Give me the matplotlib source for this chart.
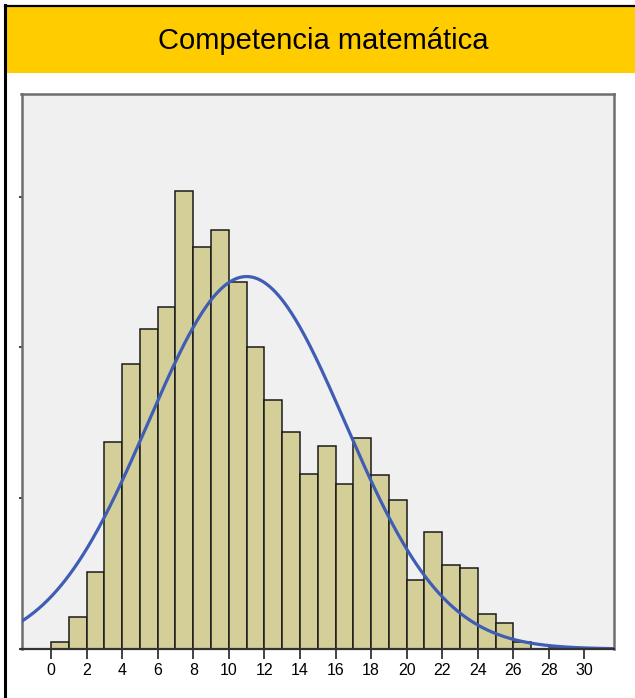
import matplotlib
matplotlib.use("Agg")
import matplotlib.pyplot as plt
import matplotlib.patches as mpatches
import numpy as np

# histogram of scores (bin width 1, left edges 0..28)
bin_left = list(range(0, 29))
counts = [0.9, 4.3, 10.2, 27.5, 37.8, 42.4, 45.3, 60.7, 53.3, 55.6,
          48.7, 40.1, 33.0, 28.8, 23.2, 26.9, 21.9, 28.0, 23.1, 19.7,
          9.2, 15.5, 11.1, 10.8, 4.6, 3.5, 0.9, 0.0, 0.15]
# normal fit shown on top
fit_mean = 11.0
fit_sd = 5.55
x_ticks = list(range(0, 31, 2))
y_ticks = [0, 20, 40, 60]
title = "Competencia matemática"

W, H = 635, 698
fig = plt.figure(figsize=(W / 100, H / 100), dpi=100)
fig.patch.set_facecolor("white")

# yellow title band and black frame lines
fig.add_artist(mpatches.Rectangle((6 / W, 1 - 73 / H), 629 / W, 66 / H,
                                  transform=fig.transFigure, facecolor="#ffcc00",
                                  edgecolor="none", zorder=0))
fig.add_artist(plt.Line2D([5 / W, 5 / W], [0, 1 - 5 / H], transform=fig.transFigure,
                          color="black", lw=2.2))
fig.add_artist(plt.Line2D([5 / W, 1], [1 - 5.5 / H, 1 - 5.5 / H], transform=fig.transFigure,
                          color="black", lw=1.6))
fig.text(323 / W, 1 - 41 / H, title, ha="center", va="center",
         fontsize=21, family="Liberation Sans", color="black")

ax = fig.add_axes([21.5 / W, 49 / H, (614 - 21.5) / W, (649 - 94) / H])
ax.set_facecolor("#f0f0f0")

ax.bar(bin_left, counts, width=1.0, align="edge", color="#d4cf99",
       edgecolor="#1a1a1a", linewidth=1.1, zorder=2)

total = sum(counts)
xs = np.linspace(-1.7, 31.7, 400)
ys = total / (fit_sd * np.sqrt(2 * np.pi)) * np.exp(-0.5 * ((xs - fit_mean) / fit_sd) ** 2)
ax.plot(xs, ys, color="#3f5db5", lw=2.3, zorder=3, solid_capstyle="butt")

ax.set_xlim(-1.66, 31.66)
ax.set_ylim(0, 73.6)
ax.set_xticks(x_ticks)
ax.set_xticklabels([str(t) for t in x_ticks], fontsize=11.5, family="Liberation Sans")
ax.set_yticks(y_ticks)
ax.set_yticklabels([])
ax.tick_params(axis="x", length=7, width=1.2, color="#222222", pad=3)
ax.tick_params(axis="y", length=2.5, width=1.2, color="#222222")

for side in ["left", "top", "right"]:
    ax.spines[side].set_color("#6e6e6e")
    ax.spines[side].set_linewidth(1.8)
ax.spines["bottom"].set_color("#333333")
ax.spines["bottom"].set_linewidth(1.6)
ax.spines["bottom"].set_zorder(4)

fig.savefig("out.png", dpi=100)
